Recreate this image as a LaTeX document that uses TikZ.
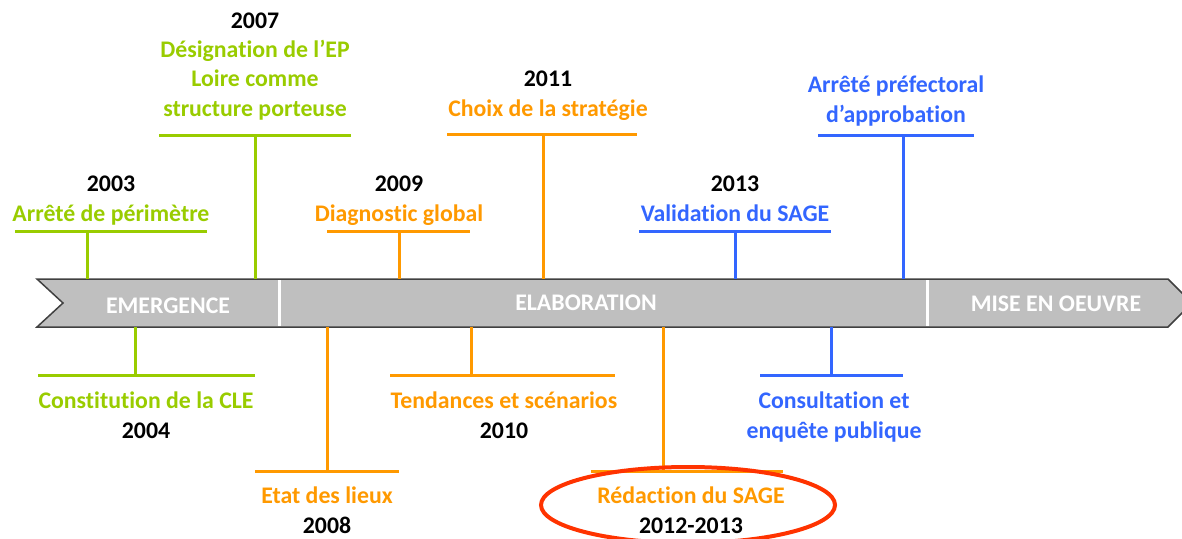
\documentclass[tikz,border=0pt]{standalone}
\usepackage{fontspec}
\setmainfont[Ligatures=NoCommon]{Carlito}
\usetikzlibrary{shapes.geometric}

\definecolor{lgreen}{HTML}{99CC00}
\definecolor{lorange}{HTML}{FF9900}
\definecolor{lblue}{HTML}{3366FF}
\definecolor{lred}{HTML}{FF3300}
\definecolor{bandfill}{HTML}{BFBFBF}
\definecolor{bandline}{HTML}{404040}

\begin{document}
\begin{tikzpicture}[x=1pt,y=-1pt,
        font=\bfseries\fontsize{23.8}{29.3}\selectfont,
        t/.style={line width=3pt},
        bar/.style={inner sep=0pt, minimum height=3pt},
        lbl/.style={align=center, inner sep=0pt, anchor=base},
        ph/.style={text=white, inner sep=0pt, anchor=base}]
    \useasboundingbox (0,0) rectangle (1182,538);
    % band
    \coordinate (bandtop) at (0,279);
    \coordinate (bandbot) at (0,327);
    \draw[fill=bandfill, draw=bandline, line width=1.5pt]
        (37,279) -- (1168,279) -- (1192,303) -- (1168,327) --
        (37,327) -- (63,303) -- cycle;
    \coordinate (sep1) at (279,280);
    \coordinate (sep2) at (927,280);
    \draw[white, line width=3pt] (sep1) -- (sep1 |- 0,326);
    \draw[white, line width=3pt] (sep2) -- (sep2 |- 0,326);
    \node[ph] (emergence) at (168,313) {EMERGENCE};
    \node[ph] (elaboration) at (586,310) {ELABORATION};
    \node[ph] (oeuvre) at (1056,311) {MISE EN OEUVRE};

    % emergence
    \node[bar, fill=lgreen, minimum width=192pt] (bar03) at (111,231) {};
    \coordinate (s03) at (87,279);
    \draw[t, lgreen] (s03) -- (s03 |- bar03);
    \node[lbl, text=lgreen] (t03) at (111,221)
        {\textcolor{black}{2003}\\Arrêté de périmètre};

    \node[bar, fill=lgreen, minimum width=192pt] (bar07) at (255,135) {};
    \coordinate (s07) at (255,279);
    \draw[t, lgreen] (s07) -- (s07 |- bar07);
    \node[lbl, text=lgreen] (t07) at (255,116)
        {\textcolor{black}{2007}\\Désignation de l’EP\\Loire comme\\structure porteuse};

    \node[bar, fill=lgreen, minimum width=217pt] (bar04) at (146.5,375) {};
    \coordinate (s04) at (135,327);
    \draw[t, lgreen] (s04) -- (s04 |- bar04);
    \node[lbl, text=lgreen] (t04) at (146,438)
        {Constitution de la CLE\\\textcolor{black}{2004}};

    % elaboration
    \node[bar, fill=lorange, minimum width=143pt] (bar09) at (398.5,231) {};
    \coordinate (s09) at (399,279);
    \draw[t, lorange] (s09) -- (s09 |- bar09);
    \node[lbl, text=lorange] (t09) at (399,221)
        {\textcolor{black}{2009}\\Diagnostic global};

    \node[bar, fill=lorange, minimum width=190pt] (bar11) at (542,134) {};
    \coordinate (s11) at (543,279);
    \draw[t, lorange] (s11) -- (s11 |- bar11);
    \node[lbl, text=lorange] (t11) at (548,116)
        {\textcolor{black}{2011}\\Choix de la stratégie};

    \node[bar, fill=lorange, minimum width=144pt] (bar08) at (327,471) {};
    \coordinate (s08) at (327,327);
    \draw[t, lorange] (s08) -- (s08 |- bar08);
    \node[lbl, text=lorange] (t08) at (327,533)
        {Etat des lieux\\\textcolor{black}{2008}};

    \node[bar, fill=lorange, minimum width=225pt] (bar10) at (502,375) {};
    \coordinate (s10) at (471,327);
    \draw[t, lorange] (s10) -- (s10 |- bar10);
    \node[lbl, text=lorange] (t10) at (504,438)
        {Tendances et scénarios\\\textcolor{black}{2010}};

    \node[bar, fill=lorange, minimum width=192pt] (bar12) at (687,471) {};
    \coordinate (s12) at (663,327);
    \draw[t, lorange] (s12) -- (s12 |- bar12);
    \node[lbl, text=lorange] (t12) at (691,533)
        {Rédaction du SAGE\\\textcolor{black}{2012-2013}};
    \node[ellipse, draw=lred, line width=4pt, minimum width=294pt,
        minimum height=76pt] (focus) at (688,505) {};

    % validation
    \node[bar, fill=lblue, minimum width=192pt] (bar13) at (735,231) {};
    \coordinate (s13) at (735,279);
    \draw[t, lblue] (s13) -- (s13 |- bar13);
    \node[lbl, text=lblue] (t13) at (735,221)
        {\textcolor{black}{2013}\\Validation du SAGE};

    \node[bar, fill=lblue, minimum width=156pt] (barap) at (896,135) {};
    \coordinate (sap) at (903,279);
    \draw[t, lblue] (sap) -- (sap |- barap);
    \node[lbl, text=lblue] (tap) at (896,122)
        {Arrêté préfectoral\\d’approbation};

    \node[bar, fill=lblue, minimum width=143pt] (barcp) at (831.5,375) {};
    \coordinate (scp) at (831,327);
    \draw[t, lblue] (scp) -- (scp |- barcp);
    \node[lbl, text=lblue] (tcp) at (834,438)
        {Consultation et\\enquête publique};
\end{tikzpicture}
\end{document}
